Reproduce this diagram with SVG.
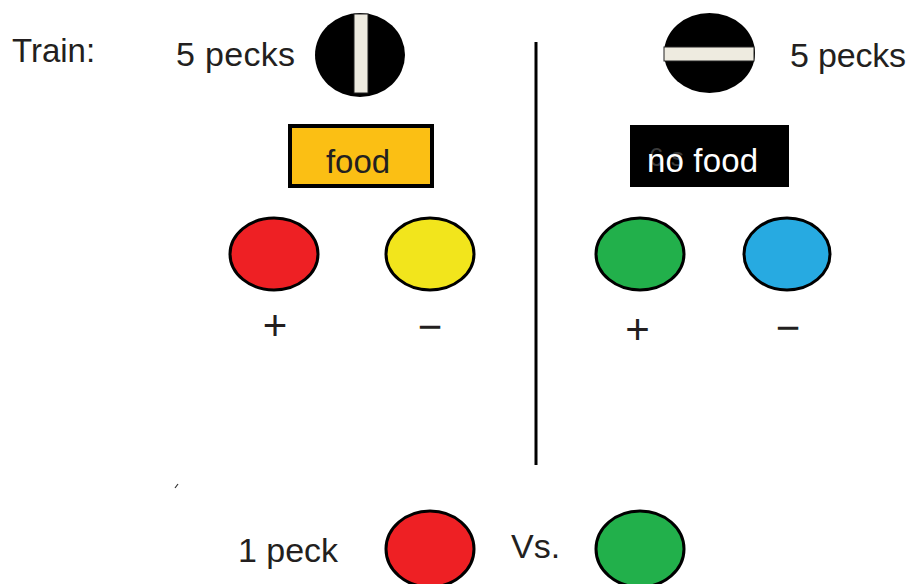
<svg xmlns="http://www.w3.org/2000/svg" width="909" height="584" viewBox="0 0 909 584">
<style>
.t{font-family:"Liberation Sans",Arial,sans-serif;fill:#231f20}
.big{font-size:34px}
.sign{font-size:42px}
.dot{stroke:#000;stroke-width:3}
.stim{fill:#000}
.bar{fill:#eeebe0;stroke:#222;stroke-width:1}
</style>
<rect width="909" height="584" fill="#fff"/>
<text class="t" x="12" y="62" font-size="33">Train:</text>
<g id="stim-left">
  <ellipse class="stim" cx="360" cy="55" rx="45" ry="42"/>
  <rect class="bar" x="354" y="14" width="14" height="79"/>
  <text class="t big" x="176" y="66" textLength="119">5 pecks</text>
</g>
<g id="stim-right">
  <ellipse class="stim" cx="709.5" cy="53" rx="45.5" ry="40"/>
  <rect class="bar" x="664" y="47" width="90" height="14"/>
  <text class="t big" x="790" y="67" textLength="116">5 pecks</text>
</g>
<g id="food">
  <rect x="290" y="126" width="142" height="60" fill="#fbbf14" stroke="#000" stroke-width="4"/>
  <text class="t" x="358" y="173" font-size="33" text-anchor="middle">food</text>
</g>
<g id="nofood">
  <rect x="630" y="125" width="159" height="62" fill="#000"/>
  <text x="649" y="166" font-family="Liberation Sans, Arial, sans-serif" font-size="26" fill="#3a3a3a">6 s</text>
  <text x="647" y="172" font-family="Liberation Sans, Arial, sans-serif" font-size="33" fill="#fff" textLength="111">no food</text>
</g>
<g id="red-top"><ellipse class="dot" cx="274" cy="254" rx="44" ry="36" fill="#ee2024"/></g>
<g id="yellow-top"><ellipse class="dot" cx="430" cy="254" rx="44" ry="36" fill="#f2e51c"/></g>
<g id="green-top"><ellipse class="dot" cx="640" cy="254" rx="44" ry="36" fill="#22b04b"/></g>
<g id="blue-top"><ellipse class="dot" cx="787" cy="254" rx="43" ry="36" fill="#27aae1"/></g>
<g id="signs">
  <text class="t sign" x="275" y="340" text-anchor="middle">+</text>
  <text class="t sign" x="430" y="341" text-anchor="middle">−</text>
  <text class="t sign" x="637.5" y="344" text-anchor="middle">+</text>
  <text class="t sign" x="788" y="342" text-anchor="middle">−</text>
</g>
<g id="connectors">
  <line x1="536" y1="42" x2="536" y2="465" stroke="#000" stroke-width="3"/>
  <line x1="175" y1="488" x2="178" y2="484" stroke="#333" stroke-width="1.2"/>
</g>
<g id="test">
  <text class="t big" x="238" y="562" textLength="100">1 peck</text>
  <ellipse class="dot" cx="430" cy="549" rx="44" ry="38" fill="#ee2024"/>
  <text class="t big" x="511" y="558">Vs.</text>
  <ellipse class="dot" cx="640" cy="549" rx="44" ry="38" fill="#22b04b"/>
</g>
</svg>
